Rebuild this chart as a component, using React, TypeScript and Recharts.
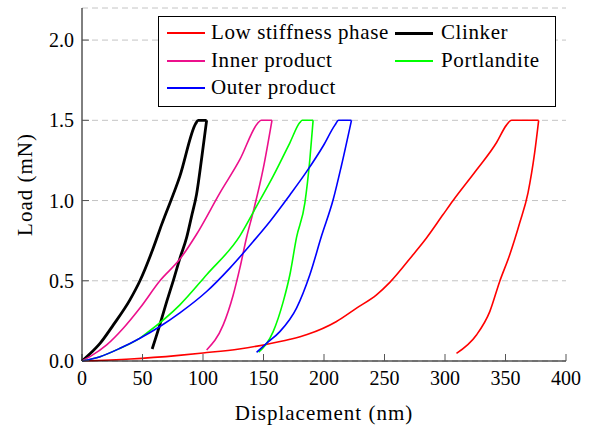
import React from 'react';
import { LineChart, Line, XAxis, YAxis, CartesianGrid, Legend } from 'recharts';

const FONT = 'Liberation Serif, DejaVu Serif, serif';

// displacement (nm) / load (mN); loading branch includes the hold at peak load,
// unloading branch listed from its lower end up to the end of the hold
const lowStiffLoadX = [0, 40, 80, 100, 130, 150, 172, 186, 210, 226.9, 243.4, 254.4, 273.6, 284.7, 298.4, 306.7, 326, 342.5, 350.8, 355, 377.4];
const lowStiffLoadY = [0, 0.012, 0.035, 0.05, 0.075, 0.1, 0.135, 0.165, 0.245, 0.33, 0.4125, 0.49, 0.6625, 0.767, 0.9125, 1.0, 1.19, 1.36, 1.47, 1.5, 1.5];
const lowStiffUnloadX = [309.5, 326, 337, 345.2, 353.5, 361.7, 368.6, 374.1, 377.4];
const lowStiffUnloadY = [0.048, 0.1625, 0.308, 0.496, 0.6625, 0.86, 1.048, 1.298, 1.5];

const clinkerLoadX = [0, 6.6, 14.9, 25.9, 39.6, 47.9, 58.9, 65.8, 80.9, 94, 96, 103];
const clinkerLoadY = [0, 0.045, 0.11, 0.225, 0.381, 0.5, 0.704, 0.85, 1.152, 1.48, 1.5, 1.5];
const clinkerUnloadX = [58, 64.5, 70, 75, 80.9, 86.5, 90.5, 94.7, 99, 103];
const clinkerUnloadY = [0.075, 0.23, 0.37, 0.49, 0.64, 0.77, 0.9, 1.04, 1.27, 1.5];

const innerLoadX = [0, 6.6, 20.4, 34.1, 47.9, 64.4, 80.9, 94.7, 114, 130.5, 145, 148, 157];
const innerLoadY = [0, 0.027, 0.1, 0.204, 0.33, 0.5, 0.635, 0.79, 1.048, 1.256, 1.48, 1.5, 1.5];
const innerUnloadX = [103, 116.7, 124.9, 130.5, 136, 141.5, 149.8, 157];
const innerUnloadY = [0.069, 0.225, 0.41, 0.58, 0.77, 0.93, 1.2, 1.5];

const portlanditeLoadX = [0, 14.9, 31.4, 47.9, 53.4, 80.9, 103, 130.5, 144.3, 158, 171.8, 180, 182, 191];
const portlanditeLoadY = [0, 0.027, 0.079, 0.142, 0.173, 0.35, 0.5375, 0.78, 0.965, 1.152, 1.36, 1.486, 1.5, 1.5];
const portlanditeUnloadX = [146, 158, 166.3, 171.8, 177.3, 184.2, 188.3, 191];
const portlanditeUnloadY = [0.055, 0.183, 0.37, 0.5375, 0.77, 0.986, 1.256, 1.5];

const outerLoadX = [0, 14.9, 31.4, 47.9, 64.4, 80.9, 103, 122.2, 141.5, 155.3, 171.8, 185.6, 199.3, 209, 212, 222.7];
const outerLoadY = [0, 0.027, 0.079, 0.142, 0.215, 0.3, 0.433, 0.579, 0.745, 0.87, 1.035, 1.18, 1.34, 1.47, 1.5, 1.5];
const outerUnloadX = [144.3, 152.5, 163.5, 177.3, 188.3, 198, 207.6, 214.3, 222.7];
const outerUnloadY = [0.054, 0.11, 0.183, 0.33, 0.5375, 0.78, 1.006, 1.214, 1.5];

const xTicks = [0, 50, 100, 150, 200, 250, 300, 350, 400];
const yTicks = [0, 0.5, 1, 1.5, 2];

const toPoints = (xs: number[], ys: number[]) => xs.map((x, i) => ({ x, y: ys[i] }));

const phases = [
  { name: 'Low stiffness phase', color: '#ff0000', width: 1.6, load: toPoints(lowStiffLoadX, lowStiffLoadY), unload: toPoints(lowStiffUnloadX, lowStiffUnloadY) },
  { name: 'Clinker', color: '#000000', width: 2.8, load: toPoints(clinkerLoadX, clinkerLoadY), unload: toPoints(clinkerUnloadX, clinkerUnloadY) },
  { name: 'Inner product', color: '#ec108c', width: 1.6, load: toPoints(innerLoadX, innerLoadY), unload: toPoints(innerUnloadX, innerUnloadY) },
  { name: 'Portlandite', color: '#00ff00', width: 1.6, load: toPoints(portlanditeLoadX, portlanditeLoadY), unload: toPoints(portlanditeUnloadX, portlanditeUnloadY) },
  { name: 'Outer product', color: '#0000ff', width: 1.6, load: toPoints(outerLoadX, outerLoadY), unload: toPoints(outerUnloadX, outerUnloadY) },
];

// legend slots (two columns, filled row by row)
const rowCenters = [16, 44, 71];
const colSample = [8, 236];
const colText = [52, 282];

const LegendBox = () => (
  <div
    style={{
      position: 'relative',
      width: 398,
      height: 91,
      boxSizing: 'border-box',
      border: '1px solid #000',
      background: '#fff',
      fontFamily: FONT,
      fontSize: 21,
      letterSpacing: 0.6,
      color: '#000',
    }}
  >
    {phases.map((p, i) => {
      const row = Math.floor(i / 2);
      const col = i % 2;
      const h = p.width > 2 ? 3 : 2;
      return (
        <React.Fragment key={p.name}>
          <div
            style={{
              position: 'absolute',
              left: colSample[col],
              top: rowCenters[row] - 1,
              width: 38,
              height: h,
              background: p.color,
            }}
          />
          <div
            style={{
              position: 'absolute',
              left: colText[col],
              top: rowCenters[row] - 11,
              lineHeight: '21px',
              whiteSpace: 'nowrap',
            }}
          >
            {p.name}
          </div>
        </React.Fragment>
      );
    })}
  </div>
);

const tickStyle = { fill: '#000', fontSize: 20, fontFamily: FONT };
const labelStyle = { fill: '#000', fontSize: 21, fontFamily: FONT, letterSpacing: 1 };

export default function App() {
  return (
    <div style={{ position: 'absolute', left: 0, top: 0, width: 590, height: 430, background: '#fff' }}>
      <LineChart width={590} height={430} margin={{ top: 8, right: 24, bottom: 0, left: 0 }}>
        <CartesianGrid vertical={false} stroke="#c4c4c4" strokeDasharray="6 4" />
        <XAxis
          dataKey="x"
          type="number"
          domain={[0, 400]}
          ticks={xTicks}
          height={69}
          tickSize={-7}
          tickMargin={17}
          axisLine={{ stroke: '#000' }}
          tickLine={{ stroke: '#555' }}
          tick={tickStyle}
          label={{ value: 'Displacement (nm)', position: 'insideBottom', offset: 10, style: labelStyle }}
        />
        <XAxis
          xAxisId="top"
          orientation="top"
          type="number"
          domain={[0, 400]}
          ticks={xTicks}
          height={0}
          tickSize={-7}
          tickFormatter={() => ''}
          axisLine={{ stroke: '#000' }}
          tickLine={{ stroke: '#555' }}
        />
        <YAxis
          type="number"
          domain={[0, 2.2]}
          ticks={yTicks}
          width={82}
          tickSize={-7}
          tickMargin={15}
          tickFormatter={(v: number) => v.toFixed(1)}
          axisLine={{ stroke: '#000' }}
          tickLine={{ stroke: '#555' }}
          tick={tickStyle}
          label={{ value: 'Load (mN)', angle: -90, position: 'insideLeft', offset: 25, style: { ...labelStyle, textAnchor: 'middle' } }}
        />
        <YAxis
          yAxisId="right"
          orientation="right"
          type="number"
          domain={[0, 2.2]}
          ticks={yTicks}
          width={0}
          tickSize={-7}
          tickFormatter={() => ''}
          axisLine={{ stroke: '#000' }}
          tickLine={{ stroke: '#555' }}
        />
        <Legend
          layout="horizontal"
          verticalAlign="middle"
          align="center"
          content={() => <LegendBox />}
          wrapperStyle={{ position: 'absolute', left: 158, top: 16, width: 398, height: 91 }}
        />
        {phases.flatMap((p) => [
          <Line
            key={p.name + '-load'}
            name={p.name}
            data={p.load}
            dataKey="y"
            type="monotone"
            stroke={p.color}
            strokeWidth={p.width}
            dot={false}
            activeDot={false}
            isAnimationActive={false}
          />,
          <Line
            key={p.name + '-unload'}
            name={p.name}
            data={p.unload}
            dataKey="y"
            type="monotone"
            stroke={p.color}
            strokeWidth={p.width}
            dot={false}
            activeDot={false}
            isAnimationActive={false}
            legendType="none"
          />,
        ])}
      </LineChart>
    </div>
  );
}
